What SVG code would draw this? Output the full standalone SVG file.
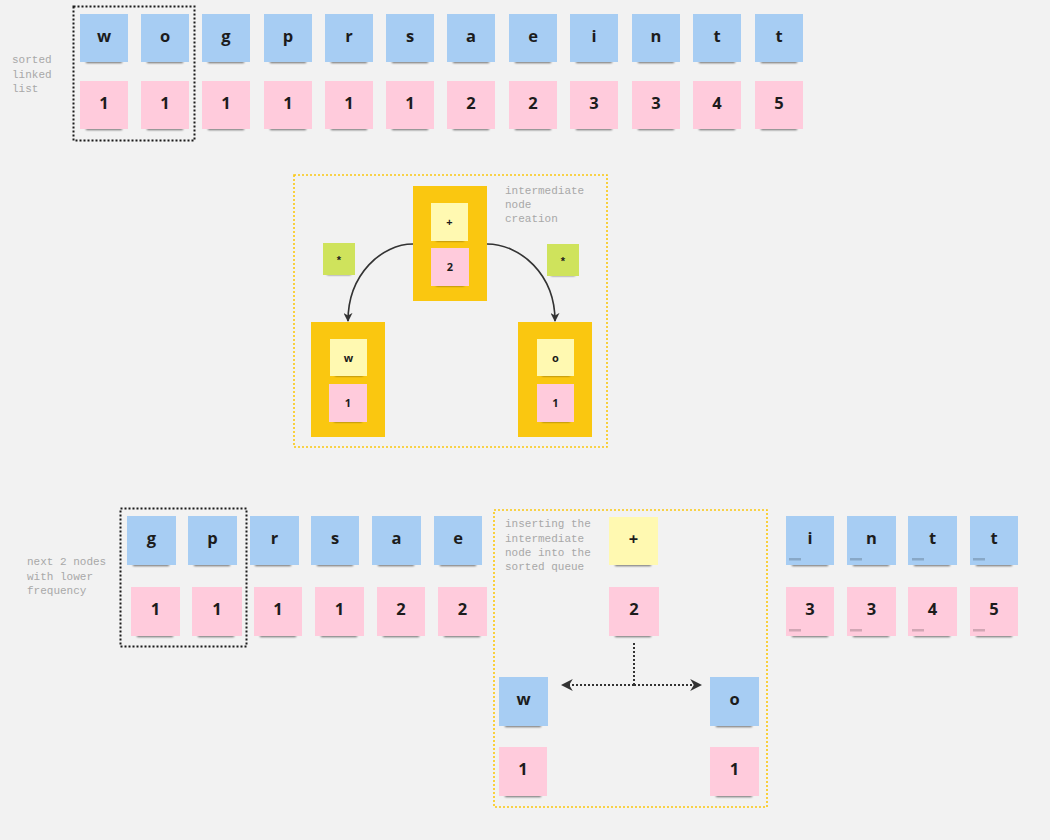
<svg xmlns="http://www.w3.org/2000/svg" width="1050" height="840" viewBox="0 0 1050 840">
<style>
.bg{fill:#f2f2f2}
.b{fill:#a7cdf3}
.p{fill:#ffcbdc}
.y{fill:#fff9b1}
.g{fill:#cfe35c}
.o{fill:#fac710}
.sh{fill:#000;opacity:.55;filter:url(#blur)}
.t{font-family:"Open Sans","Liberation Sans",sans-serif;font-weight:700;fill:#1c1c1c;text-anchor:middle}
.L{font-size:16.5px}
.S{font-size:11px}
.st{font-family:"Liberation Sans",sans-serif;font-weight:700;font-size:11px;fill:#1c1c1c;text-anchor:middle}
.lbl{font-family:"Liberation Mono","DejaVu Sans Mono",monospace;font-size:11px;fill:#a8a8a8}
.blk{fill:none;stroke:#1a1a1a;stroke-width:2;stroke-dasharray:2 2}
.yel{fill:none;stroke:#fac710;stroke-width:1.6;stroke-dasharray:2 2}
.dash{fill:#000;opacity:.18}
</style>
<defs>
<filter id="blur" x="-20%" y="-200%" width="140%" height="500%"><feGaussianBlur stdDeviation="1.3"/></filter>
<marker id="ah" viewBox="0 0 10 10" refX="9" refY="5" markerWidth="9" markerHeight="9" orient="auto" markerUnits="userSpaceOnUse">
<path d="M0,0 L10,5 L0,10 L3,5 z" fill="#333"/>
</marker>
<marker id="ah2" viewBox="0 0 10 10" refX="9" refY="5" markerWidth="12" markerHeight="12" orient="auto-start-reverse" markerUnits="userSpaceOnUse">
<path d="M0,0 L10,5 L0,10 L3,5 z" fill="#333"/>
</marker>
</defs>
<rect class="bg" x="0" y="0" width="1050" height="840"/>

<!-- labels -->
<g id="label-sorted"><text class="lbl" x="12" y="63">sorted</text><text class="lbl" x="12" y="77.5">linked</text><text class="lbl" x="12" y="92">list</text></g>
<g id="label-creation"><text class="lbl" x="505" y="194">intermediate</text><text class="lbl" x="505" y="208">node</text><text class="lbl" x="505" y="222">creation</text></g>
<g id="label-next"><text class="lbl" x="27" y="565">next 2 nodes</text><text class="lbl" x="27" y="579.5">with lower</text><text class="lbl" x="27" y="594">frequency</text></g>
<g id="label-insert"><text class="lbl" x="505" y="527">inserting the</text><text class="lbl" x="505" y="541.5">intermediate</text><text class="lbl" x="505" y="556">node into the</text><text class="lbl" x="505" y="570">sorted queue</text></g>

<!-- frames -->
<g id="frames">
<rect class="blk" x="73.5" y="6.5" width="121" height="134"/>
<rect class="yel" x="294" y="175" width="313" height="272"/>
<rect class="blk" x="120.5" y="508.5" width="126" height="138"/>
<rect class="yel" x="494" y="510" width="273" height="297"/>
</g>

<!-- top row -->
<g id="top-w"><rect class="sh" x="86" y="59" width="36" height="4"/><rect class="b" x="80" y="14" width="48" height="48"/><text class="t L" x="104" y="42">w</text></g>
<g id="top-o"><rect class="sh" x="147" y="59" width="36" height="4"/><rect class="b" x="141" y="14" width="48" height="48"/><text class="t L" x="165" y="42">o</text></g>
<g id="top-g"><rect class="sh" x="208" y="59" width="36" height="4"/><rect class="b" x="202" y="14" width="48" height="48"/><text class="t L" x="226" y="42">g</text></g>
<g id="top-p"><rect class="sh" x="270" y="59" width="36" height="4"/><rect class="b" x="264" y="14" width="48" height="48"/><text class="t L" x="288" y="42">p</text></g>
<g id="top-r"><rect class="sh" x="331" y="59" width="36" height="4"/><rect class="b" x="325" y="14" width="48" height="48"/><text class="t L" x="349" y="42">r</text></g>
<g id="top-s"><rect class="sh" x="392" y="59" width="36" height="4"/><rect class="b" x="386" y="14" width="48" height="48"/><text class="t L" x="410" y="42">s</text></g>
<g id="top-a"><rect class="sh" x="453" y="59" width="36" height="4"/><rect class="b" x="447" y="14" width="48" height="48"/><text class="t L" x="471" y="42">a</text></g>
<g id="top-e"><rect class="sh" x="515" y="59" width="36" height="4"/><rect class="b" x="509" y="14" width="48" height="48"/><text class="t L" x="533" y="42">e</text></g>
<g id="top-i"><rect class="sh" x="576" y="59" width="36" height="4"/><rect class="b" x="570" y="14" width="48" height="48"/><text class="t L" x="594" y="42">i</text></g>
<g id="top-n"><rect class="sh" x="638" y="59" width="36" height="4"/><rect class="b" x="632" y="14" width="48" height="48"/><text class="t L" x="656" y="42">n</text></g>
<g id="top-t1"><rect class="sh" x="699" y="59" width="36" height="4"/><rect class="b" x="693" y="14" width="48" height="48"/><text class="t L" x="717" y="42">t</text></g>
<g id="top-t2"><rect class="sh" x="761" y="59" width="36" height="4"/><rect class="b" x="755" y="14" width="48" height="48"/><text class="t L" x="779" y="42">t</text></g>

<g id="top-f-w"><rect class="sh" x="86" y="126" width="36" height="4"/><rect class="p" x="80" y="81" width="48" height="48"/><text class="t L" x="104" y="109">1</text></g>
<g id="top-f-o"><rect class="sh" x="147" y="126" width="36" height="4"/><rect class="p" x="141" y="81" width="48" height="48"/><text class="t L" x="165" y="109">1</text></g>
<g id="top-f-g"><rect class="sh" x="208" y="126" width="36" height="4"/><rect class="p" x="202" y="81" width="48" height="48"/><text class="t L" x="226" y="109">1</text></g>
<g id="top-f-p"><rect class="sh" x="270" y="126" width="36" height="4"/><rect class="p" x="264" y="81" width="48" height="48"/><text class="t L" x="288" y="109">1</text></g>
<g id="top-f-r"><rect class="sh" x="331" y="126" width="36" height="4"/><rect class="p" x="325" y="81" width="48" height="48"/><text class="t L" x="349" y="109">1</text></g>
<g id="top-f-s"><rect class="sh" x="392" y="126" width="36" height="4"/><rect class="p" x="386" y="81" width="48" height="48"/><text class="t L" x="410" y="109">1</text></g>
<g id="top-f-a"><rect class="sh" x="453" y="126" width="36" height="4"/><rect class="p" x="447" y="81" width="48" height="48"/><text class="t L" x="471" y="109">2</text></g>
<g id="top-f-e"><rect class="sh" x="515" y="126" width="36" height="4"/><rect class="p" x="509" y="81" width="48" height="48"/><text class="t L" x="533" y="109">2</text></g>
<g id="top-f-i"><rect class="sh" x="576" y="126" width="36" height="4"/><rect class="p" x="570" y="81" width="48" height="48"/><text class="t L" x="594" y="109">3</text></g>
<g id="top-f-n"><rect class="sh" x="638" y="126" width="36" height="4"/><rect class="p" x="632" y="81" width="48" height="48"/><text class="t L" x="656" y="109">3</text></g>
<g id="top-f-t1"><rect class="sh" x="699" y="126" width="36" height="4"/><rect class="p" x="693" y="81" width="48" height="48"/><text class="t L" x="717" y="109">4</text></g>
<g id="top-f-t2"><rect class="sh" x="761" y="126" width="36" height="4"/><rect class="p" x="755" y="81" width="48" height="48"/><text class="t L" x="779" y="109">5</text></g>

<!-- intermediate node creation -->
<g id="node-plus">
<rect class="o" x="413" y="186" width="74" height="115"/>
<rect class="sh" x="436" y="238" width="28" height="3"/><rect class="y" x="431" y="203" width="37" height="38"/><text class="t S" x="449.5" y="226">+</text>
<rect class="sh" x="436" y="283" width="28" height="3"/><rect class="p" x="431" y="248" width="38" height="38"/><text class="t S" x="450" y="271">2</text>
</g>
<g id="node-w">
<rect class="o" x="311" y="322" width="74" height="115"/>
<rect class="sh" x="335" y="373" width="28" height="3"/><rect class="y" x="330" y="339" width="37" height="37"/><text class="t S" x="348.5" y="361.5">w</text>
<rect class="sh" x="334" y="419" width="28" height="3"/><rect class="p" x="329" y="384" width="38" height="38"/><text class="t S" x="348" y="407">1</text>
</g>
<g id="node-o">
<rect class="o" x="518" y="322" width="74" height="115"/>
<rect class="sh" x="542" y="373" width="28" height="3"/><rect class="y" x="537" y="339" width="37" height="37"/><text class="t S" x="555.5" y="361.5">o</text>
<rect class="sh" x="542" y="419" width="28" height="3"/><rect class="p" x="537" y="384" width="37" height="38"/><text class="t S" x="555.5" y="407">1</text>
</g>
<g id="star-left"><rect class="sh" x="327" y="272" width="24" height="3"/><rect class="g" x="323" y="243" width="32" height="32"/><text class="st" x="339" y="264">*</text></g>
<g id="star-right"><rect class="sh" x="551" y="273" width="24" height="3"/><rect class="g" x="547" y="244" width="32" height="32"/><text class="st" x="563" y="265">*</text></g>

<!-- bottom left row -->
<g id="b-g"><rect class="sh" x="133" y="562" width="36" height="4"/><rect class="b" x="127" y="516" width="49" height="49"/><text class="t L" x="151.5" y="544">g</text></g>
<g id="b-p"><rect class="sh" x="194" y="562" width="36" height="4"/><rect class="b" x="188" y="516" width="49" height="49"/><text class="t L" x="212.5" y="544">p</text></g>
<g id="b-r"><rect class="sh" x="255" y="562" width="36" height="4"/><rect class="b" x="250" y="516" width="49" height="49"/><text class="t L" x="274.5" y="544">r</text></g>
<g id="b-s"><rect class="sh" x="317" y="562" width="36" height="4"/><rect class="b" x="311" y="516" width="48" height="49"/><text class="t L" x="335" y="544">s</text></g>
<g id="b-a"><rect class="sh" x="378" y="562" width="36" height="4"/><rect class="b" x="372" y="516" width="49" height="49"/><text class="t L" x="396.5" y="544">a</text></g>
<g id="b-e"><rect class="sh" x="440" y="562" width="36" height="4"/><rect class="b" x="434" y="516" width="48" height="49"/><text class="t L" x="458" y="544">e</text></g>

<g id="b-f-g"><rect class="sh" x="137" y="633" width="36" height="4"/><rect class="p" x="131" y="587" width="49" height="49"/><text class="t L" x="155.5" y="615">1</text></g>
<g id="b-f-p"><rect class="sh" x="198" y="633" width="36" height="4"/><rect class="p" x="192" y="587" width="50" height="49"/><text class="t L" x="217" y="615">1</text></g>
<g id="b-f-r"><rect class="sh" x="260" y="633" width="36" height="4"/><rect class="p" x="254" y="587" width="48" height="49"/><text class="t L" x="278" y="615">1</text></g>
<g id="b-f-s"><rect class="sh" x="321" y="633" width="36" height="4"/><rect class="p" x="315" y="587" width="49" height="49"/><text class="t L" x="339.5" y="615">1</text></g>
<g id="b-f-a"><rect class="sh" x="383" y="633" width="36" height="4"/><rect class="p" x="377" y="587" width="48" height="49"/><text class="t L" x="401" y="615">2</text></g>
<g id="b-f-e"><rect class="sh" x="444" y="633" width="36" height="4"/><rect class="p" x="438" y="587" width="49" height="49"/><text class="t L" x="462.5" y="615">2</text></g>

<!-- inserting box -->
<g id="ins-plus"><rect class="sh" x="615" y="562" width="36" height="4"/><rect class="y" x="609" y="517" width="49" height="48"/><text class="t L" x="633.5" y="545">+</text></g>
<g id="ins-2"><rect class="sh" x="615" y="633" width="36" height="4"/><rect class="p" x="609" y="587" width="50" height="49"/><text class="t L" x="634" y="615">2</text></g>
<g id="ins-w"><rect class="sh" x="505" y="723" width="36" height="4"/><rect class="b" x="499" y="677" width="49" height="49"/><text class="t L" x="523.5" y="705">w</text></g>
<g id="ins-w1"><rect class="sh" x="505" y="793" width="36" height="4"/><rect class="p" x="499" y="747" width="48" height="49"/><text class="t L" x="523" y="775">1</text></g>
<g id="ins-o"><rect class="sh" x="716" y="723" width="36" height="4"/><rect class="b" x="710" y="677" width="49" height="49"/><text class="t L" x="734.5" y="705">o</text></g>
<g id="ins-o1"><rect class="sh" x="716" y="793" width="36" height="4"/><rect class="p" x="710" y="747" width="49" height="49"/><text class="t L" x="734.5" y="775">1</text></g>

<!-- bottom right row -->
<g id="r-i"><rect class="sh" x="792" y="562" width="36" height="4"/><rect class="b" x="786" y="516" width="48" height="49"/><rect class="dash" x="789" y="558" width="12" height="2.5"/><text class="t L" x="810" y="544">i</text></g>
<g id="r-n"><rect class="sh" x="853" y="562" width="36" height="4"/><rect class="b" x="847" y="516" width="49" height="49"/><rect class="dash" x="850" y="558" width="12" height="2.5"/><text class="t L" x="871.5" y="544">n</text></g>
<g id="r-t1"><rect class="sh" x="914" y="562" width="36" height="4"/><rect class="b" x="908" y="516" width="49" height="49"/><rect class="dash" x="912" y="558" width="12" height="2.5"/><text class="t L" x="932.5" y="544">t</text></g>
<g id="r-t2"><rect class="sh" x="976" y="562" width="36" height="4"/><rect class="b" x="970" y="516" width="48" height="49"/><rect class="dash" x="973" y="558" width="12" height="2.5"/><text class="t L" x="994" y="544">t</text></g>

<g id="r-f-i"><rect class="sh" x="792" y="633" width="36" height="4"/><rect class="p" x="786" y="587" width="48" height="49"/><rect class="dash" x="789" y="629" width="12" height="2.5"/><text class="t L" x="810" y="615">3</text></g>
<g id="r-f-n"><rect class="sh" x="853" y="633" width="36" height="4"/><rect class="p" x="847" y="587" width="49" height="49"/><rect class="dash" x="850" y="629" width="12" height="2.5"/><text class="t L" x="871.5" y="615">3</text></g>
<g id="r-f-t1"><rect class="sh" x="914" y="633" width="36" height="4"/><rect class="p" x="908" y="587" width="49" height="49"/><rect class="dash" x="912" y="629" width="12" height="2.5"/><text class="t L" x="932.5" y="615">4</text></g>
<g id="r-f-t2"><rect class="sh" x="976" y="633" width="36" height="4"/><rect class="p" x="970" y="587" width="48" height="49"/><rect class="dash" x="973" y="629" width="12" height="2.5"/><text class="t L" x="994" y="615">5</text></g>

<!-- connectors -->
<g id="connectors" fill="none" stroke="#333">
<path d="M413,244 C382,244 348,274 348,321" stroke-width="1.6" marker-end="url(#ah)"/>
<path d="M487,244 C520,244 555,274 555,321" stroke-width="1.6" marker-end="url(#ah)"/>
<path d="M634,643 L634,685" stroke-width="2" stroke-dasharray="2 2"/>
<path d="M634,685 L562,685" stroke-width="2" stroke-dasharray="2 2" marker-end="url(#ah2)"/>
<path d="M634,685 L701,685" stroke-width="2" stroke-dasharray="2 2" marker-end="url(#ah2)"/>
</g>
</svg>
